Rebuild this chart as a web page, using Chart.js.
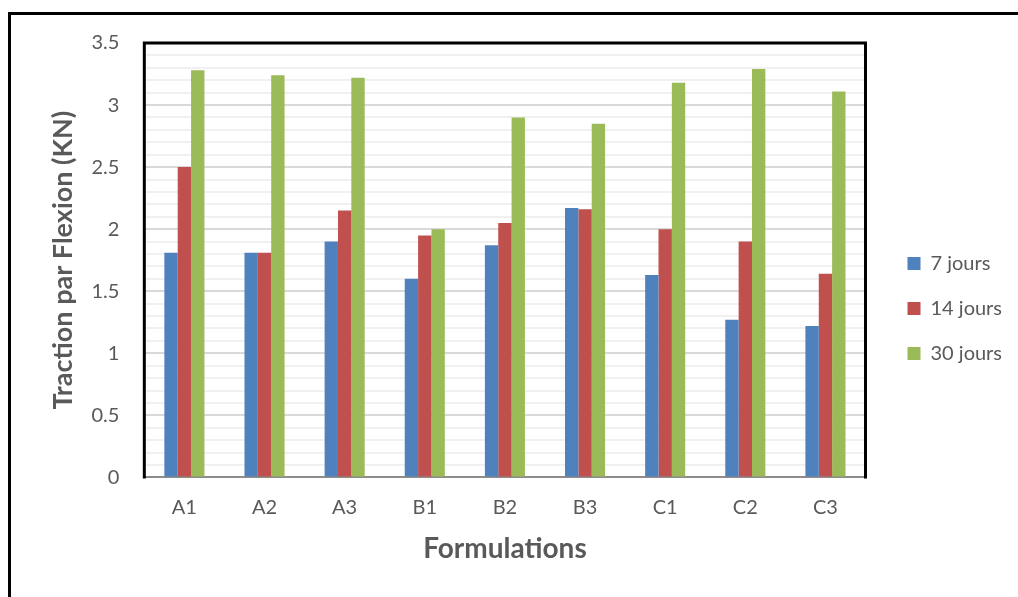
<!DOCTYPE html>
<html>
<head>
<meta charset="utf-8">
<script src="https://cdn.jsdelivr.net/npm/chart.js@4/dist/chart.umd.min.js"></script>
<style>
  body { margin: 0; background: #fff; overflow: hidden; }
  #frame { position: absolute; left: 8px; top: 12px; width: 1200px; height: 800px; border: 3px solid #000; }
  #chart { position: absolute; left: 0; top: 0; }
</style>
</head>
<body>
<div id="frame"></div>
<canvas id="chart" width="1018" height="597"></canvas>
<script>
const formulations = ['A1', 'A2', 'A3', 'B1', 'B2', 'B3', 'C1', 'C2', 'C3'];
const jours7 = [1.81, 1.81, 1.90, 1.60, 1.87, 2.17, 1.63, 1.27, 1.22];
const jours14 = [2.50, 1.81, 2.15, 1.95, 2.05, 2.16, 2.00, 1.90, 1.64];
const jours30 = [3.28, 3.24, 3.22, 2.00, 2.90, 2.85, 3.18, 3.29, 3.11];

const grey = '#595959';
const legendGap = 17;

// gap between plot and legend, plus black frame round the plot area
const plotFrame = {
    id: 'plotFrame',
    beforeLayout(chart) {
        const legend = chart.legend;
        if (legend && !legend._patched) {
            const fit = legend.fit;
            legend.fit = function () { fit.call(this); this.width += legendGap; };
            legend._patched = true;
        }
    },
    afterLayout(chart) {
        const legend = chart.legend;
        legend.left += legendGap;
        legend.top += 2;
        legend.bottom += 2;
    },
    afterDraw(chart) {
        const { ctx, chartArea: a } = chart;
        ctx.save();
        ctx.strokeStyle = '#000';
        ctx.lineWidth = 3;
        ctx.beginPath();
        ctx.moveTo(a.left, a.bottom + 1);
        ctx.lineTo(a.left, a.top);
        ctx.lineTo(a.right, a.top);
        ctx.lineTo(a.right, a.bottom + 1);
        ctx.stroke();
        ctx.restore();
    }
};

new Chart(document.getElementById('chart'), {
    type: 'bar',
    data: {
        labels: formulations,
        datasets: [
            { label: '7 jours', data: jours7, backgroundColor: '#4f81bd' },
            { label: '14 jours', data: jours14, backgroundColor: '#c0504d' },
            { label: '30 jours', data: jours30, backgroundColor: '#9bbb59' }
        ]
    },
    options: {
        responsive: false,
        animation: false,
        layout: { padding: { left: 47, top: 43, right: 6, bottom: 27 } },
        datasets: { bar: { categoryPercentage: 0.5, barPercentage: 1 } },
        plugins: {
            tooltip: { enabled: false },
            legend: {
                position: 'right',
                labels: {
                    boxWidth: 13, boxHeight: 13, padding: 25,
                    color: grey,
                    font: { family: 'Lato', size: 20 }
                }
            }
        },
        scales: {
            x: {
                grid: { display: false, drawTicks: true, tickLength: 10 },
                border: { display: true, color: '#8c8c8c', width: 2 },
                ticks: { color: grey, padding: 8, font: { family: 'Lato', size: 20 } },
                title: {
                    display: true, text: 'Formulations', color: grey,
                    font: { family: 'Lato', size: 28, weight: 'bold' },
                    padding: { top: 5, bottom: 4 }
                }
            },
            y: {
                min: 0, max: 3.5,
                border: { display: false },
                grid: {
                    drawTicks: true,
                    tickLength: 19,
                    tickColor: 'rgba(0,0,0,0)',
                    lineWidth: 2,
                    color: c => Math.round(c.tick.value * 10) % 5 === 0 ? '#d9d9d9' : '#f0f0f0'
                },
                ticks: {
                    stepSize: 0.1, autoSkip: false, padding: 6,
                    color: grey, font: { family: 'Lato', size: 20 },
                    callback: v => Math.round(v * 10) % 5 === 0 ? String(Math.round(v * 10) / 10) : ''
                },
                title: {
                    display: true, text: 'Traction par Flexion (KN)', color: grey,
                    font: { family: 'Lato', size: 27, weight: 'bold' },
                    padding: { top: 0, bottom: 6 }
                }
            }
        }
    },
    plugins: [plotFrame]
});
</script>
</body>
</html>
